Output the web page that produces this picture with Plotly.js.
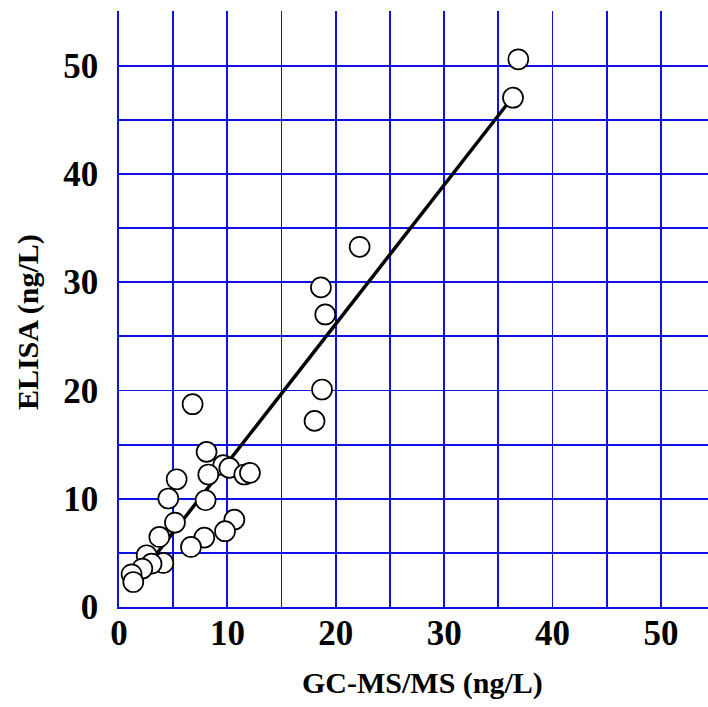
<!DOCTYPE html>
<html>
<head>
<meta charset="utf-8">
<script src="https://cdn.plot.ly/plotly-3.0.1.min.js"></script>
<style>html,body{margin:0;padding:0;background:#fff;}#chart{width:708px;height:707px;}</style>
</head>
<body>
<div id="chart"></div>
<script>
// GC-MS/MS (x) vs ELISA (y), ng/L
const gcms = [8.08, 9.62, 10.18, 11.56, 12.08, 8.24, 5.32, 4.55, 7.99, 5.16, 3.72, 10.64, 9.78, 7.87, 6.64, 4.09, 2.55, 3.0, 2.15, 1.16, 1.32, 6.79, 18.04, 18.73, 22.2, 18.63, 19.03, 36.84, 36.35];
const elisa = [14.33, 13.1, 12.85, 12.24, 12.39, 12.24, 11.8, 10.02, 9.86, 7.8, 6.47, 8.07, 7.0, 6.41, 5.55, 4.07, 4.78, 4.0, 3.55, 3.02, 2.31, 18.73, 17.19, 20.09, 33.27, 29.52, 27.02, 50.59, 47.04];

// regression line end points
const fitX = [3.0, 36.35];
const fitY = [4.32, 47.14];

const tickVals = [0, 5, 10, 15, 20, 25, 30, 35, 40, 45, 50, 55];
const tickText = ['0', '', '10', '', '20', '', '30', '', '40', '', '50', ''];
const xTitle = 'GC-MS/MS (ng/L)';
const yTitle = 'ELISA (ng/L)';

const gridColor = 'rgb(15,15,230)';
const serif = '"Liberation Serif", "Times New Roman", Times, serif';

const traces = [
  {x: fitX, y: fitY, mode: 'lines', type: 'scatter', line: {color: '#000', width: 3.5}},
  {x: gcms, y: elisa, mode: 'markers', type: 'scatter',
   marker: {symbol: 'circle', size: 20, color: '#fff', line: {color: '#000', width: 1.7}}}
];

const layout = {
  width: 708, height: 707,
  margin: {l: 119, r: 0, t: 11, b: 100, pad: 0},
  paper_bgcolor: '#fff', plot_bgcolor: '#fff',
  showlegend: false,
  xaxis: {
    range: [0, 54.34], tickmode: 'array', tickvals: tickVals, ticktext: tickText,
    showgrid: true, gridcolor: gridColor, gridwidth: 1.8,
    showline: true, linecolor: gridColor, linewidth: 1.8,
    zeroline: false, ticks: '', ticklabelstandoff: -6,
    tickfont: {family: serif, size: 35, color: '#000', weight: 'bold'}
  },
  yaxis: {
    range: [0, 55.05], tickmode: 'array', tickvals: tickVals, ticktext: tickText,
    showgrid: true, gridcolor: gridColor, gridwidth: 1.8,
    showline: true, linecolor: gridColor, linewidth: 1.8,
    zeroline: false, ticks: '', ticklabelstandoff: 12,
    tickfont: {family: serif, size: 35, color: '#000', weight: 'bold'}
  },
  annotations: [
    {text: xTitle, xref: 'paper', yref: 'paper', x: 0.516, y: -0.128,
     xanchor: 'center', yanchor: 'middle', showarrow: false,
     font: {family: serif, size: 30, color: '#000', weight: 'bold'}},
    {text: yTitle, xref: 'paper', yref: 'paper', x: -0.1545, y: 0.478,
     xanchor: 'center', yanchor: 'middle', textangle: -90, showarrow: false,
     font: {family: serif, size: 30, color: '#000', weight: 'bold'}}
  ]
};

Plotly.newPlot('chart', traces, layout, {displayModeBar: false, staticPlot: true});
</script>
</body>
</html>
